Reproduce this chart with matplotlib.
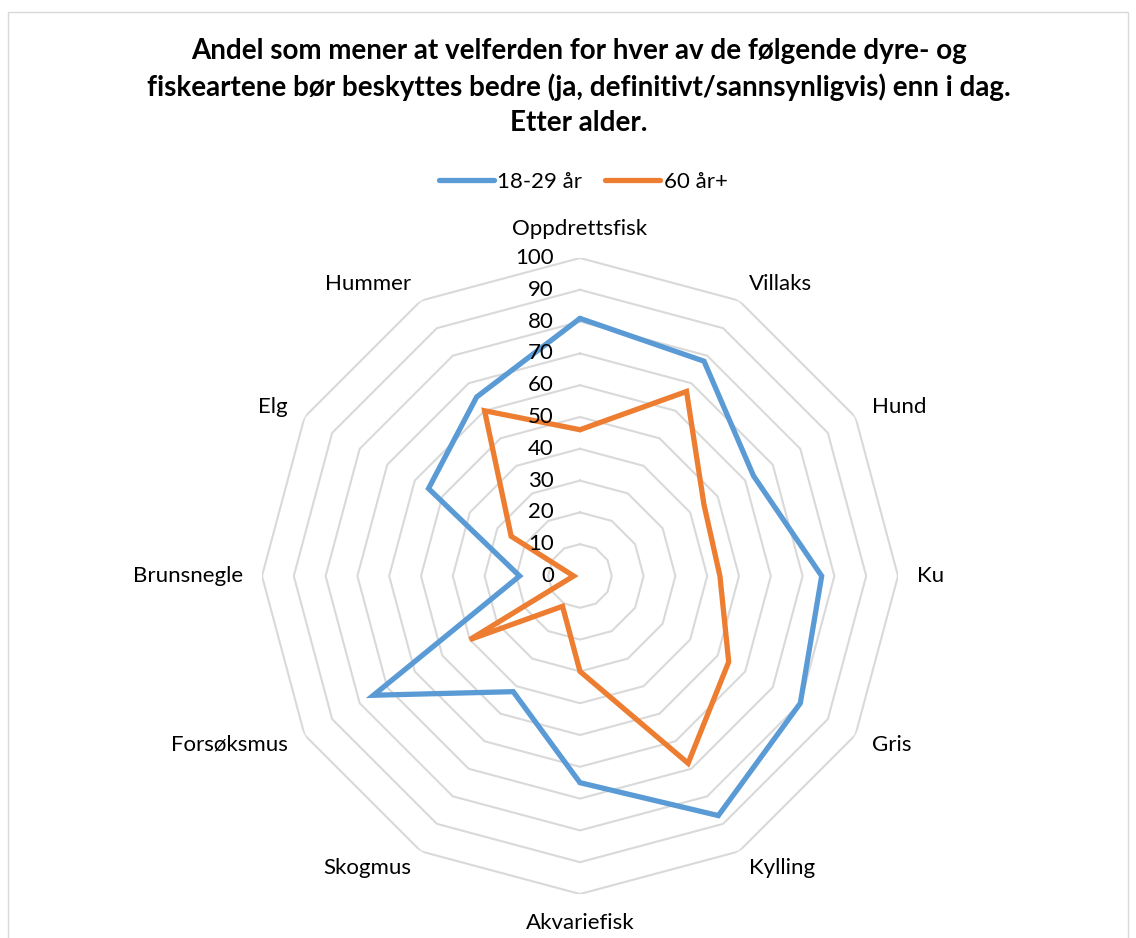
import matplotlib
matplotlib.use('Agg')
import matplotlib.pyplot as plt
import matplotlib.transforms as mtransforms
from matplotlib.patches import Rectangle
import numpy as np

plt.rcParams['font.family'] = ['Lato', 'DejaVu Sans']

# ── data ──────────────────────────────────────────────
categories = ['Oppdrettsfisk', 'Villaks', 'Hund', 'Ku', 'Gris', 'Kylling',
              'Akvariefisk', 'Skogmus', 'Forsøksmus', 'Brunsnegle', 'Elg', 'Hummer']
young = [81, 78, 63, 76, 80, 87, 65, 42, 75, 19, 55, 65]   # 18-29 år
old   = [46, 67, 45, 44, 54, 68, 30, 11, 40, 2, 25, 60]    # 60 år+
levels = list(range(0, 101, 10))
series_names = ['18-29 år', '60 år+']

BLUE = '#5B9BD5'
ORANGE = '#ED7D31'
GRID = '#D9D9D9'
TXT = '#000000'

fig = plt.figure(figsize=(11.36, 9.38), dpi=100)
fig.patch.set_facecolor('white')

# chart border
fig.patches.append(Rectangle((8 / 1136, -0.01), 1120 / 1136, 1 - 12 / 938 + 0.01,
                             transform=fig.transFigure, fill=False,
                             edgecolor='#D9D9D9', linewidth=1.0))

cx, cy, R = 580, 576, 318
ax = fig.add_axes([(cx - R) / 1136, 1 - (cy + R) / 938, 2 * R / 1136, 2 * R / 938],
                  projection='polar')
ax.set_theta_zero_location('N')
ax.set_theta_direction(-1)
ax.set_ylim(0, 100)
ax.axis('off')

n = len(categories)
angles = np.linspace(0, 2 * np.pi, n, endpoint=False)
closed = np.append(angles, angles[0])

# polygon grid (no spokes)
for lv in levels[1:]:
    ax.plot(closed, [lv] * (n + 1), color=GRID, lw=1.5, zorder=1)

# series
ax.plot(closed, young + young[:1], color=BLUE, lw=3.8, solid_joinstyle='miter',
        solid_capstyle='round', label=series_names[0], zorder=3)
ax.plot(closed, old + old[:1], color=ORANGE, lw=3.8, solid_joinstyle='miter',
        solid_capstyle='round', label=series_names[1], zorder=3)

# value labels along vertical axis
off = mtransforms.offset_copy(ax.transData, fig=fig, x=-26, y=0, units='dots')
for lv in levels:
    ax.text(0, lv, str(lv), transform=off, ha='right', va='center',
            fontsize=16, color=TXT, zorder=4)

# category labels
for a, name in zip(angles, categories):
    s, c = np.sin(a), np.cos(a)
    ha = 'left' if s > 0.01 else ('right' if s < -0.01 else 'center')
    va = 'bottom' if c > 0.99 else ('top' if c < -0.99 else 'center')
    ax.text(a, 106, name, ha=ha, va=va, fontsize=16, color=TXT)

fig.text(579 / 1136, 1 - 87 / 938,
         'Andel som mener at velferden for hver av de følgende dyre- og\n'
         'fiskeartene bør beskyttes bedre (ja, definitivt/sannsynligvis) enn i dag.\n'
         'Etter alder.',
         ha='center', va='center', fontsize=20, fontweight='bold', color=TXT,
         linespacing=1.4)

handles, labels = ax.get_legend_handles_labels()
fig.legend(handles, labels, loc='center', bbox_to_anchor=(583 / 1136, 1 - 182 / 938),
           ncol=2, frameon=False, fontsize=16, handlelength=2.5,
           handletextpad=0.15, columnspacing=1.0)

fig.savefig('out.png', dpi=100, facecolor='white')
